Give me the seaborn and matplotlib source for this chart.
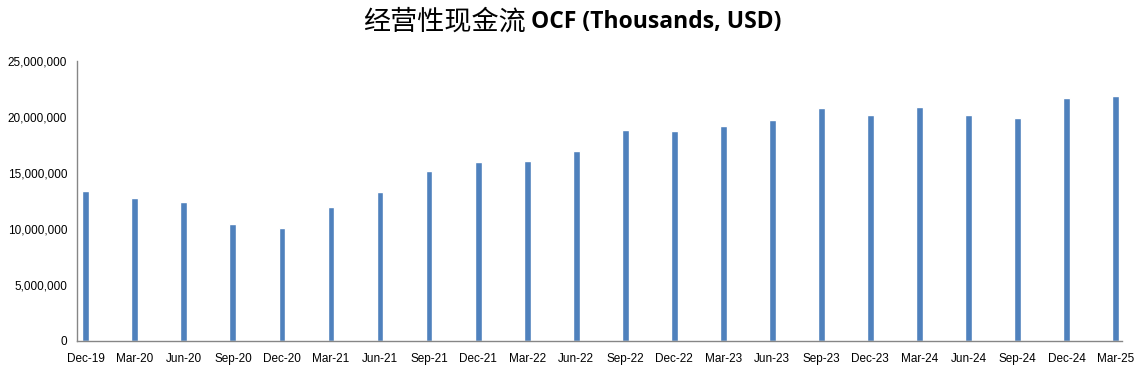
import numpy as np
import pandas as pd
import matplotlib
matplotlib.use("Agg")
import matplotlib.pyplot as plt
import matplotlib.ticker as mticker
import seaborn as sns

# quarter labels and operating cash flow (thousands USD)
quarters = ["Dec-19", "Mar-20", "Jun-20", "Sep-20", "Dec-20", "Mar-21", "Jun-21", "Sep-21",
            "Dec-21", "Mar-22", "Jun-22", "Sep-22", "Dec-22", "Mar-23", "Jun-23", "Sep-23",
            "Dec-23", "Mar-24", "Jun-24", "Sep-24", "Dec-24", "Mar-25"]
ocf = [13400000, 12780000, 12430000, 10470000, 10110000, 11980000, 13320000, 15180000,
       15980000, 16070000, 16960000, 18830000, 18740000, 19190000, 19720000, 20790000,
       20170000, 20880000, 20170000, 19900000, 21680000, 21860000]
y_ticks = [0, 5000000, 10000000, 15000000, 20000000, 25000000]

sns.set_style("white")
plt.rcParams['font.family'] = ['Liberation Sans', 'Noto Sans CJK SC', 'DejaVu Sans']
plt.rcParams['text.color'] = '#000000'

df = pd.DataFrame({'quarter': quarters, 'ocf': ocf})

fig = plt.figure(figsize=(11.39, 3.79), dpi=100)
ax = fig.add_axes([0.0676, 0.1003, 0.9174, 0.7387])

sns.barplot(data=df, x='quarter', y='ocf', order=quarters, color='#4F81BD',
            saturation=1, width=0.14, ax=ax)

ax.set_ylim(0, 25000000)
ax.set_xlim(-0.18, len(quarters) - 1 + 0.13)
ax.set_yticks(y_ticks)
ax.yaxis.set_major_formatter(mticker.FuncFormatter(lambda v, p: f"{int(v):,}"))

# labels under the bars, small tick marks just left of each bar (Excel date axis look)
ax.set_xticks(range(len(quarters)))
ax.set_xticklabels(quarters)
ax.set_xticks([i - 0.17 for i in range(len(quarters))], minor=True)
ax.tick_params(axis='x', which='major', length=0, pad=9, labelsize=8.5, labelcolor='#000000')
ax.tick_params(axis='x', which='minor', length=5, width=1, color='#868686', direction='out')
ax.tick_params(axis='y', length=5, width=1, color='#868686', direction='out', labelsize=8.5,
               labelcolor='#000000', pad=2)

for side in ['top', 'right']:
    ax.spines[side].set_visible(False)
for side in ['left', 'bottom']:
    ax.spines[side].set_color('#868686')
    ax.spines[side].set_linewidth(1)

ax.set_xlabel('')
ax.set_ylabel('')

# title: Chinese part in regular weight, English part bold
fig.text(0.4615, 0.942, '经营性现金流', ha='right', va='center', color='#000000',
         fontsize=19.5, fontweight='normal', family=['Noto Sans CJK SC'])
fig.text(0.4665, 0.942, 'OCF (Thousands, USD)', ha='left', va='center', color='#000000',
         fontsize=16.5, fontweight='bold', family=['Open Sans'])

plt.savefig('out.png', dpi=100)
plt.close()
